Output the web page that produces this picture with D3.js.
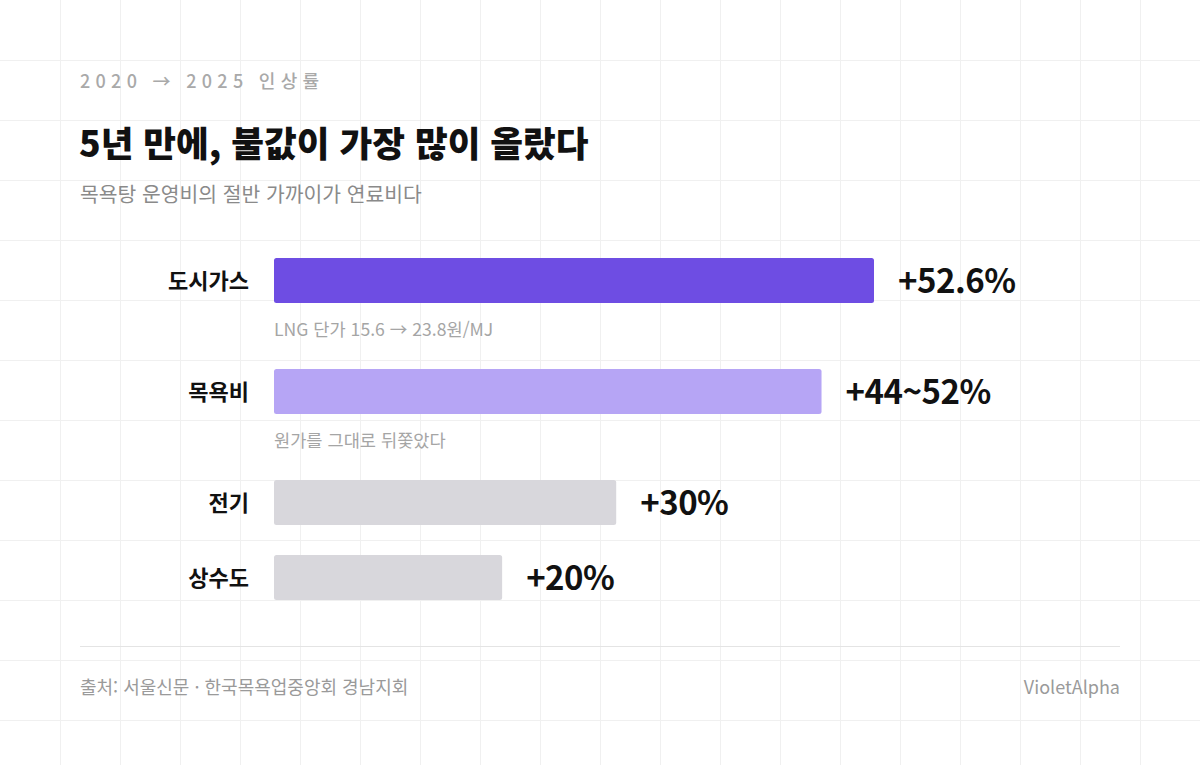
<!DOCTYPE html>
<html lang="ko">
<head>
<meta charset="utf-8">
<script src="https://cdn.jsdelivr.net/npm/d3@7"></script>
<style>
  html, body { margin: 0; padding: 0; background: #fff; }
  svg { display: block; font-family: 'Noto Sans CJK KR', 'Noto Sans', sans-serif; }
</style>
</head>
<body>
<div id="chart"></div>
<script>
'use strict';

// data
var categories = [ '도시가스', '목욕비', '전기', '상수도' ];
var lowValues = [ 52.6, 44, 30, 20 ];
var highValues = [ 52.6, 52, 30, 20 ];
var valueLabels = [ '+52.6%', '+44~52%', '+30%', '+20%' ];
var notes = [ 'LNG 단가 15.6 → 23.8원/MJ', '원가를 그대로 뒤쫓았다', '', '' ];
var barColors = [ '#6e4de3', '#b6a5f5', '#d8d7dc', '#d8d7dc' ];

var width = 1200,
    height = 765,
    gridStep = 60,
    barLeft = 274,
    barHeight = 45,
    rowGap = 30,
    noteGap = 36,
    firstBarTop = 258;

var svg = d3.select( '#chart' )
  .append( 'svg' )
    .attr( 'width', width )
    .attr( 'height', height );

// background grid
var grid = svg.append( 'g' )
  .attr( 'stroke', '#f0f0f0' )
  .attr( 'stroke-width', 1 )
  .attr( 'shape-rendering', 'crispEdges' );

grid.selectAll( 'line.v' )
  .data( d3.range( gridStep, width, gridStep ) )
  .enter().append( 'line' )
    .attr( 'class', 'v' )
    .attr( 'x1', function( d ) { return d + 0.5; } )
    .attr( 'x2', function( d ) { return d + 0.5; } )
    .attr( 'y1', 0 )
    .attr( 'y2', height );

grid.selectAll( 'line.h' )
  .data( d3.range( gridStep, height, gridStep ) )
  .enter().append( 'line' )
    .attr( 'class', 'h' )
    .attr( 'x1', 0 )
    .attr( 'x2', width )
    .attr( 'y1', function( d ) { return d + 0.5; } )
    .attr( 'y2', function( d ) { return d + 0.5; } );

// header
svg.append( 'text' )
  .attr( 'x', 80 )
  .attr( 'y', 88 )
  .style( 'font-size', '18px' )
  .style( 'font-weight', 500 )
  .style( 'letter-spacing', '5.3px' )
  .style( 'fill', '#a9a9a9' )
  .text( '2020 → 2025 인상률' );

svg.append( 'text' )
  .attr( 'x', 79 )
  .attr( 'y', 157 )
  .style( 'font-size', '35.6px' )
  .style( 'font-weight', 900 )
  .style( 'fill', '#111' )
  .text( '5년 만에, 불값이 가장 많이 올랐다' );

svg.append( 'text' )
  .attr( 'x', 80 )
  .attr( 'y', 202 )
  .style( 'font-size', '20.4px' )
  .style( 'fill', '#8a8a8a' )
  .text( '목욕탕 운영비의 절반 가까이가 연료비다' );

// scale
var x = d3.scaleLinear()
  .domain( [ 0, 52.6 ] )
  .range( [ 0, 600 ] );

var rows = categories.map( function( c, i ) {
  return {
    category: c,
    value: ( lowValues[i] + highValues[i] ) / 2,
    label: valueLabels[i],
    note: notes[i],
    color: barColors[i]
  };
} );

var tops = [];
rows.reduce( function( y, d ) {
  tops.push( y );
  return y + barHeight + rowGap + ( d.note ? noteGap : 0 );
}, firstBarTop );

var row = svg.selectAll( 'g.row' )
  .data( rows )
  .enter().append( 'g' )
    .attr( 'class', 'row' )
    .attr( 'transform', function( d, i ) {
      return 'translate(0,' + tops[i] + ')';
    } );

row.append( 'rect' )
  .attr( 'x', barLeft )
  .attr( 'y', 0 )
  .attr( 'width', function( d ) { return x( d.value ); } )
  .attr( 'height', barHeight )
  .attr( 'rx', 2.5 )
  .style( 'fill', function( d ) { return d.color; } );

row.append( 'text' )
  .attr( 'x', 249 )
  .attr( 'y', barHeight / 2 + 8.5 )
  .style( 'font-size', '22px' )
  .style( 'font-weight', 700 )
  .style( 'text-anchor', 'end' )
  .style( 'fill', '#111' )
  .text( function( d ) { return d.category; } );

row.append( 'text' )
  .attr( 'x', function( d ) { return barLeft + x( d.value ) + 24; } )
  .attr( 'y', barHeight / 2 + 12.5 )
  .style( 'font-size', '33px' )
  .style( 'font-weight', 700 )
  .style( 'letter-spacing', '-0.5px' )
  .style( 'fill', '#111' )
  .text( function( d ) { return d.label; } );

row.filter( function( d ) { return d.note; } )
  .append( 'text' )
    .attr( 'x', barLeft )
    .attr( 'y', barHeight + 33 )
    .style( 'font-size', '17.6px' )
    .style( 'fill', '#a5a5a5' )
    .text( function( d ) { return d.note; } );

// footer
svg.append( 'line' )
  .attr( 'x1', 80 )
  .attr( 'x2', 1120 )
  .attr( 'y1', 646.5 )
  .attr( 'y2', 646.5 )
  .style( 'stroke', '#e4e4e4' )
  .style( 'stroke-width', 1 );

svg.append( 'text' )
  .attr( 'x', 80 )
  .attr( 'y', 694 )
  .style( 'font-size', '18px' )
  .style( 'fill', '#9a9a9a' )
  .text( '출처: 서울신문 · 한국목욕업중앙회 경남지회' );

svg.append( 'text' )
  .attr( 'x', 1120 )
  .attr( 'y', 694 )
  .style( 'font-size', '18px' )
  .style( 'text-anchor', 'end' )
  .style( 'fill', '#9a9a9a' )
  .text( 'VioletAlpha' );
</script>
</body>
</html>
